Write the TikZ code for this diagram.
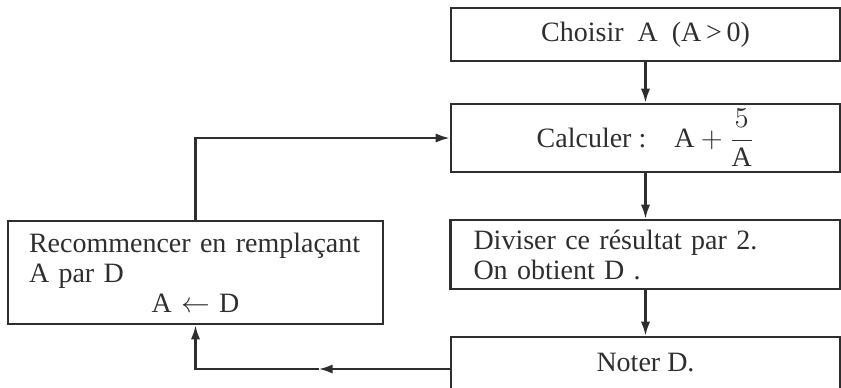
\documentclass[tikz,border=0pt]{standalone}
\usepackage{fontspec}
\setmainfont{Liberation Serif}
\usetikzlibrary{arrows.meta}
\definecolor{ink}{gray}{0.18}

\begin{document}
\begin{tikzpicture}[x=0.5pt,y=-0.5pt,
    font=\fontsize{14}{15}\selectfont, text=ink,
    box/.style={draw=ink, line width=1.3pt, minimum width=194.5pt, inner sep=0pt},
    flow/.style={draw=ink, line width=1.1pt, -{Latex[length=7pt,width=4.6pt]}}]
  \useasboundingbox (0,0) rectangle (841,387);

  % the chain on the right
  \node[box, minimum height=26.5pt] (choisir) at (645.5,34.5) {Choisir \ A \ (A\,{>}\,0)};
  \node[box, minimum height=34pt] (calculer) at (645.5,138)
    {Calculer :\quad $\displaystyle \mathrm{A}+\frac{5}{\mathrm{A}}$};
  \node[box, minimum height=34.5pt, align=left, text width=172pt,
    inner xsep=11.5pt] (diviser) at (645.5,254.5)
    {Diviser ce résultat par 2.\\ On obtient D .};
  \node[box, minimum height=26pt] (noter) at (645.5,363) {Noter D.};

  % the loop box
  \node[box, minimum width=187.5pt, minimum height=51.5pt, align=left,
    text width=166.5pt, inner xsep=10.5pt] (recommencer) at (195.5,272.5)
    {Recommencer en remplaçant\\ A par D\\ \makebox[\linewidth]{A $\leftarrow$ D}};

  \coordinate (depart) at ([yshift=-3pt]noter.west);
  \coordinate (retour) at ([xshift=-65.5pt]depart);

  \draw[flow] (choisir) -- (calculer);
  \draw[flow] (calculer) -- (diviser);
  \draw[flow] (diviser) -- (noter);
  \draw[flow] (depart) -- (retour);
  \draw[flow] (retour) -| (recommencer.south);
  \draw[flow] (recommencer.north) |- (calculer.west);
\end{tikzpicture}
\end{document}
